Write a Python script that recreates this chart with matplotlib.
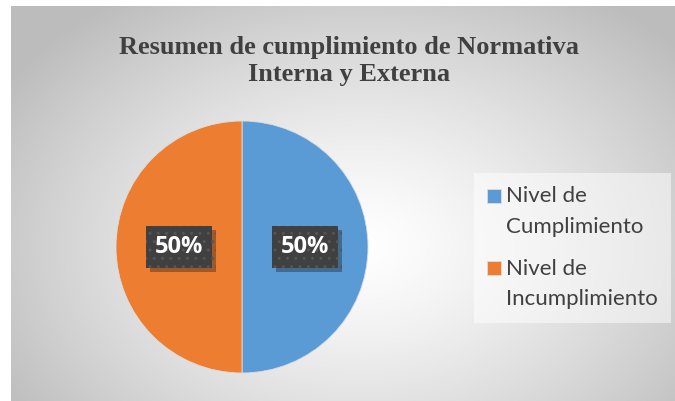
import numpy as np
import matplotlib
matplotlib.use("Agg")
import matplotlib.pyplot as plt
import matplotlib.patheffects as pe
from matplotlib.legend_handler import HandlerPatch
from matplotlib.patches import Rectangle

title = "Resumen de cumplimiento de Normativa\nInterna y Externa"
categories = ["Nivel de\nCumplimiento", "Nivel de\nIncumplimiento"]
values = [50, 50]
colors = ["#5B9BD5", "#ED7D31"]

W, H = 675, 401
fig = plt.figure(figsize=(W / 100, H / 100), dpi=100)
fig.patch.set_facecolor("white")

# background gradient panel
bx0, by0 = 11, 6
bg = fig.add_axes([bx0 / W, 0, 1 - bx0 / W, 1 - by0 / H])
bg.set_axis_off()
yy, xx = np.mgrid[by0:H, bx0:W]
cx, cy = 360, 245
d = np.sqrt(((xx - cx) / 420.0) ** 2 + ((yy - cy) / 300.0) ** 2)
d = np.clip(d, 0, 1)
val = 1.0 - 0.26 * d ** 1.3
img = np.dstack([val, val, val])
bg.imshow(img, aspect="auto", extent=[0, 1, 0, 1], interpolation="bilinear")
bg.set_xlim(0, 1)
bg.set_ylim(0, 1)

# pie axes
pcx, pcy, r = 242, 247, 126
ax = fig.add_axes([(pcx - r) / W, (H - pcy - r) / H, 2 * r / W, 2 * r / H])
ax.set_axis_off()
wedges, texts = ax.pie(values, colors=colors, startangle=90, counterclock=False,
                       labels=["%d%%" % v for v in values], labeldistance=0.5,
                       wedgeprops=dict(linewidth=0.6, edgecolor="#dddddd"),
                       textprops=dict(color="white", fontsize=17, fontweight="bold",
                                      family=["Open Sans", "DejaVu Sans"],
                                      ha="center", va="center"))
ax.set_xlim(-1, 1)
ax.set_ylim(-1, 1)
for t in texts:
    t.set_bbox(dict(boxstyle="square,pad=0.38", fc="#404040", ec="#555555",
                    lw=0, hatch=".."))
    t.get_bbox_patch().set_path_effects([pe.SimplePatchShadow(offset=(3, -3), alpha=0.35),
                                         pe.Normal()])

fig.text(349 / W, 1 - 61 / H, title, ha="center", va="center",
         fontsize=19, fontweight="bold", color="#404040",
         family=["Liberation Serif", "DejaVu Serif"], linespacing=1.17)


def top_square(legend, orig_handle, xdescent, ydescent, width, height, fontsize):
    return Rectangle((-xdescent, -ydescent + fontsize * 0.72), width, height)


leg = fig.legend(wedges, categories, loc="upper left",
                 bbox_to_anchor=(474 / W, 1 - 173 / H),
                 prop=dict(family=["Lato", "DejaVu Sans"], size=16),
                 labelcolor="#404040", frameon=True, fancybox=False,
                 handlelength=0.6, handleheight=0.6, handletextpad=0.25,
                 labelspacing=1.0, borderpad=0.6, borderaxespad=0,
                 handler_map={wedges[0]: HandlerPatch(patch_func=top_square),
                              wedges[1]: HandlerPatch(patch_func=top_square)})
leg.get_frame().set_facecolor("white")
leg.get_frame().set_alpha(0.5)
leg.get_frame().set_edgecolor("none")
for t in leg.get_texts():
    t.set_linespacing(1.65)

fig.savefig("out.png", dpi=100)
